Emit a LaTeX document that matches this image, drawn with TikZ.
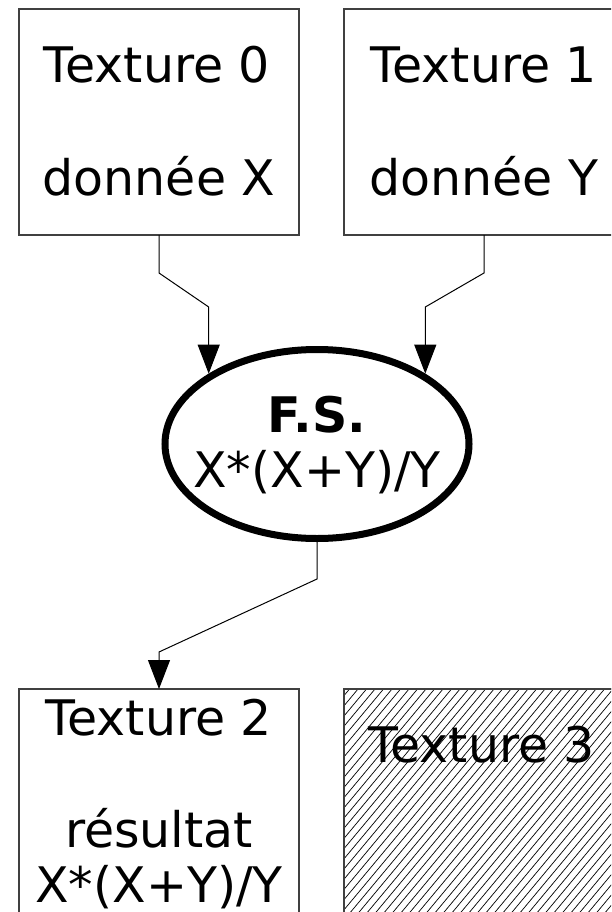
\documentclass[tikz,border=0pt]{standalone}
\usepackage{fontspec}
\setmainfont{DejaVu Sans}
\usetikzlibrary{shapes.geometric,arrows.meta}
\begin{document}
\begin{tikzpicture}[x=1pt,y=-1pt,
  texbox/.style={draw=black!75,line width=1.2pt,minimum width=280pt,minimum height=226pt,inner sep=0pt,outer sep=0pt},
  lbl/.style={anchor=base,inner sep=0pt,font=\fontsize{49}{56}\selectfont},
  flow/.style={line width=1pt,-{Triangle[width=22pt,length=29pt]}},
  shader/.style={ellipse,draw,line width=7pt,minimum width=304pt,minimum height=189pt,inner sep=0pt},
  hatch/.style={line width=0.7pt}]
\clip (0,0) rectangle (611,912);

% input textures
\node[texbox] (b0) at (159,122) {};
\node[texbox] (b1) at (484,122) {};
\node[lbl] (t0) at (157,83) {Texture 0};
\node[lbl] (d0) at (159,195) {donnée X};
\node[lbl] (t1) at (484,83) {Texture 1};
\node[lbl] (d1) at (484,195) {donnée Y};

% fragment shader
\node[shader] (fs) at (317,444) {};
\node[lbl] (fsname) at (317,432) {\textbf{F.S.}};
\node[lbl] (fsexpr) at (317,487) {X*(X+Y)/Y};

% output texture
\node[texbox] (b2) at (159,802) {};
\node[lbl] (t2) at (159,735) {Texture 2};
\node[lbl] (r2) at (159,847) {résultat};
\node[lbl] (e2) at (159,902) {X*(X+Y)/Y};

% unused texture, hatched
\node[texbox] (b3) at (484,802) {};
\begin{scope}
  \clip (b3.south west) rectangle (b3.north east);
  \foreach \i in {0,...,56}
    \draw[hatch] (140+8.5*\i,920) -- ++(200,-240);
\end{scope}
\node[texbox] (b3f) at (484,802) {};
\node[lbl] (t3) at (482,762) {Texture 3};

% data flow
\draw[flow] (b0.south) -- ++(0,38) -- (fs.147 |- 0,307) -- (fs.147);
\draw[flow] (b1.south) -- ++(0,38) -- (fs.33 |- 0,307) -- (fs.33);
\draw[flow] (fs.south) -- ++(0,37) -- (b2.north |- 0,652) -- (b2.north);
\end{tikzpicture}
\end{document}
